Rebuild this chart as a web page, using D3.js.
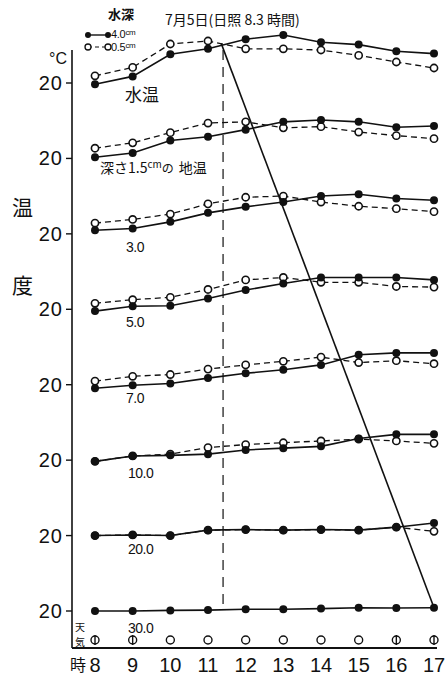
<!DOCTYPE html>
<html>
<head>
<meta charset="utf-8">
<script src="https://cdn.jsdelivr.net/npm/d3@7"></script>
<style>
  body { margin: 0; background: #fff; }
  text { fill: #111; }
  .num { font-family: "Liberation Sans", Arial, sans-serif; }
  .jp { font-family: "Noto Sans CJK JP", sans-serif; }
</style>
</head>
<body>
<div id="chart"></div>
<script>
const W = 446, H = 677;

const hours = [8, 9, 10, 11, 12, 13, 14, 15, 16, 17];

// panel labels: water temp, then soil temp at each depth (cm)
const panelLabels = ['水温', '深さ1.5', '3.0', '5.0', '7.0', '10.0', '20.0', '30.0'];

// water depth 4.0 cm plot (filled dots, solid line)
const deep40 = [
    [19.8, 21.1, 24.8, 25.7, 27.3, 28.0, 26.8, 26.4, 25.3, 24.9],
    [20.2, 20.9, 23.0, 23.6, 24.8, 26.1, 26.4, 26.1, 25.2, 25.4],
    [20.6, 20.9, 22.0, 23.5, 24.5, 25.3, 26.3, 26.6, 25.9, 25.6],
    [19.7, 20.5, 20.6, 21.8, 23.2, 24.3, 25.3, 25.3, 25.3, 24.9],
    [19.4, 19.9, 20.2, 21.1, 21.9, 22.5, 23.3, 25.0, 25.3, 25.3],
    [19.8, 20.7, 20.8, 21.0, 21.7, 22.0, 22.3, 23.6, 24.3, 24.3],
    [20.0, 20.1, 20.0, 20.9, 21.0, 20.9, 21.0, 20.9, 21.4, 22.1],
    [20.0, 20.0, 20.1, 20.15, 20.3, 20.3, 20.4, 20.55, 20.5, 20.55]
];

// water depth 0.5 cm plot (open circles, dashed line)
const shallow05 = [
    [21.2, 22.6, 26.5, 27.0, 25.7, 25.7, 25.5, 24.6, 23.5, 22.5],
    [21.7, 22.6, 24.3, 25.9, 26.1, 25.1, 25.3, 24.4, 23.8, 23.3],
    [21.8, 22.4, 23.3, 25.0, 26.1, 26.3, 25.3, 24.6, 24.2, 23.7],
    [21.0, 21.6, 22.0, 23.3, 24.9, 25.3, 24.5, 24.5, 23.8, 23.7],
    [20.6, 21.4, 21.7, 22.6, 23.3, 23.9, 24.6, 23.7, 24.0, 23.5],
    [19.8, 20.7, 21.0, 22.1, 22.6, 22.9, 23.2, 23.5, 23.2, 22.8],
    [20.0, 20.1, 20.0, 20.9, 21.0, 20.9, 21.0, 20.9, 21.4, 20.7],
    null
];

// weather: 'clear' = ○, 'fine' = ⦶
const weather = ['fine', 'fine', 'clear', 'clear', 'clear', 'clear', 'clear', 'clear', 'fine', 'fine'];

// lag line (time of max temp) and the dashed line at solar noon
const lagLine = [{hour: 11.35, panel: 0, temp: 26.6}, {hour: 17, panel: 7, temp: 20.55}];
const noonLine = [{hour: 11.4, panel: 0, temp: 25.5}, {hour: 11.4, panel: 7, temp: 20.0}];

const svg = d3.select('#chart').append('svg')
    .attr('width', W).attr('height', H);

const x = d3.scaleLinear().domain([8, 17]).range([95, 434]);
const panelBase = d3.scaleLinear().domain([0, 7]).range([83, 611]);
// one temperature scale per panel, 20°C sits on the panel's base line
const yOf = p => d3.scaleLinear().domain([20, 30]).range([panelBase(p), panelBase(p) - 60]);

// axes
svg.append('line').attr('x1', 72).attr('x2', 72).attr('y1', 50).attr('y2', 648)
    .attr('stroke', '#111').attr('stroke-width', 1.6);
svg.append('line').attr('x1', 72).attr('x2', 437).attr('y1', 648).attr('y2', 648)
    .attr('stroke', '#111').attr('stroke-width', 1.8);

d3.range(8).forEach(p => {
    const y0 = yOf(p)(20);
    svg.append('line').attr('x1', 66).attr('x2', 72).attr('y1', y0).attr('y2', y0)
        .attr('stroke', '#111').attr('stroke-width', 1.4);
    svg.append('text').attr('class', 'num')
        .attr('x', 63).attr('y', y0 + 7)
        .attr('text-anchor', 'end')
        .attr('font-size', 20)
        .attr('letter-spacing', 1)
        .text('20');
});

svg.append('text').attr('class', 'num').attr('x', 49).attr('y', 64)
    .attr('font-size', 16).text('°C');

svg.append('text').attr('class', 'jp').attr('x', 12).attr('y', 215)
    .attr('font-size', 21).text('温');
svg.append('text').attr('class', 'jp').attr('x', 12).attr('y', 293)
    .attr('font-size', 21).text('度');

// x tick labels
svg.selectAll('.xtick').data(hours).enter().append('text')
    .attr('class', 'num xtick')
    .attr('x', d => x(d))
    .attr('y', 672)
    .attr('text-anchor', 'middle')
    .attr('font-size', 20)
    .text(d => d);
svg.append('text').attr('class', 'jp').attr('x', 70).attr('y', 671)
    .attr('font-size', 16).text('時');

// noon & lag lines
const pt = d => [x(d.hour), yOf(d.panel)(d.temp)];
svg.append('path').attr('d', d3.line()(noonLine.map(pt)))
    .attr('stroke', '#111').attr('stroke-width', 1.2).attr('stroke-dasharray', '10,7').attr('fill', 'none');
svg.append('path').attr('d', d3.line()(lagLine.map(pt)))
    .attr('stroke', '#111').attr('stroke-width', 1.6).attr('fill', 'none');

// series
const line = d3.line().x((d, i) => x(hours[i]));
d3.range(8).forEach(p => {
    const y = yOf(p);
    const g = svg.append('g');
    if (shallow05[p]) {
        g.append('path')
            .attr('d', line.y(d => y(d))(shallow05[p]))
            .attr('fill', 'none').attr('stroke', '#111')
            .attr('stroke-width', 1.3).attr('stroke-dasharray', '6,4');
        g.selectAll('.open').data(shallow05[p]).enter().append('circle')
            .attr('cx', (d, i) => x(hours[i])).attr('cy', d => y(d))
            .attr('r', 3.6).attr('fill', '#fff').attr('stroke', '#111').attr('stroke-width', 1.6);
    }
    g.append('path')
        .attr('d', line.y(d => y(d))(deep40[p]))
        .attr('fill', 'none').attr('stroke', '#111').attr('stroke-width', 1.6);
    g.selectAll('.filled').data(deep40[p]).enter().append('circle')
        .attr('cx', (d, i) => x(hours[i])).attr('cy', d => y(d))
        .attr('r', 4).attr('fill', '#111');
});

// panel labels
const lab = (p, dx, dy) => [x(8) + dx, yOf(p)(20) + dy];
let [lx, ly] = lab(0, 30, 18);
svg.append('text').attr('class', 'jp').attr('x', lx).attr('y', ly).attr('font-size', 17).text(panelLabels[0]);
[lx, ly] = lab(1, 5, 15);
const t1 = svg.append('text').attr('class', 'jp').attr('x', lx).attr('y', ly).attr('font-size', 14);
t1.append('tspan').text(panelLabels[1]);
t1.append('tspan').attr('font-size', 10).attr('dy', -5).text('cm');
t1.append('tspan').attr('font-size', 12).attr('dy', 5).text('の');
t1.append('tspan').attr('dx', 5).text('地温');
d3.range(2, 8).forEach(p => {
    const [a, b] = lab(p, p < 5 ? 31 : 33, p === 7 ? 22 : 18);
    svg.append('text').attr('class', 'num').attr('x', a).attr('y', b)
        .attr('font-size', 14).attr('letter-spacing', -0.5).text(panelLabels[p]);
});

// weather row
const wy = 640;
const wg = svg.append('g');
wg.selectAll('circle').data(weather).enter().append('circle')
    .attr('cx', (d, i) => x(hours[i])).attr('cy', wy)
    .attr('r', 4).attr('fill', 'none').attr('stroke', '#111').attr('stroke-width', 1.4);
wg.selectAll('line').data(weather.map((w, i) => ({w, h: hours[i]})).filter(d => d.w === 'fine'))
    .enter().append('line')
    .attr('x1', d => x(d.h)).attr('x2', d => x(d.h))
    .attr('y1', wy - 5).attr('y2', wy + 5)
    .attr('stroke', '#111').attr('stroke-width', 1.4);
svg.append('text').attr('class', 'jp').attr('x', 75).attr('y', 631).attr('font-size', 10).text('天');
svg.append('text').attr('class', 'jp').attr('x', 75).attr('y', 646).attr('font-size', 10).text('気');

// legend and title
svg.append('text').attr('class', 'jp').attr('x', 108).attr('y', 19).attr('font-size', 13).attr('font-weight', 'bold').text('水深');
svg.append('line').attr('x1', 88).attr('x2', 108).attr('y1', 35).attr('y2', 35).attr('stroke', '#111').attr('stroke-width', 1.4);
svg.append('line').attr('x1', 88).attr('x2', 108).attr('y1', 47).attr('y2', 47).attr('stroke', '#111').attr('stroke-width', 1.2).attr('stroke-dasharray', '4,3');
[88, 108].forEach(cx => {
    svg.append('circle').attr('cx', cx).attr('cy', 35).attr('r', 3).attr('fill', '#111');
    svg.append('circle').attr('cx', cx).attr('cy', 47).attr('r', 3).attr('fill', '#fff').attr('stroke', '#111').attr('stroke-width', 1.3);
});
[['4.0', 38], ['0.5', 51]].forEach(([v, yy]) => {
    const t = svg.append('text').attr('class', 'num').attr('x', 111).attr('y', yy).attr('font-size', 11).attr('letter-spacing', -0.3);
    t.append('tspan').text(v);
    t.append('tspan').attr('font-size', 8).attr('dy', -3).text('cm');
});
svg.append('text').attr('class', 'jp').attr('x', 165).attr('y', 25)
    .attr('font-size', 14).text('7月5日(日照 8.3 時間)');
</script>
</body>
</html>
